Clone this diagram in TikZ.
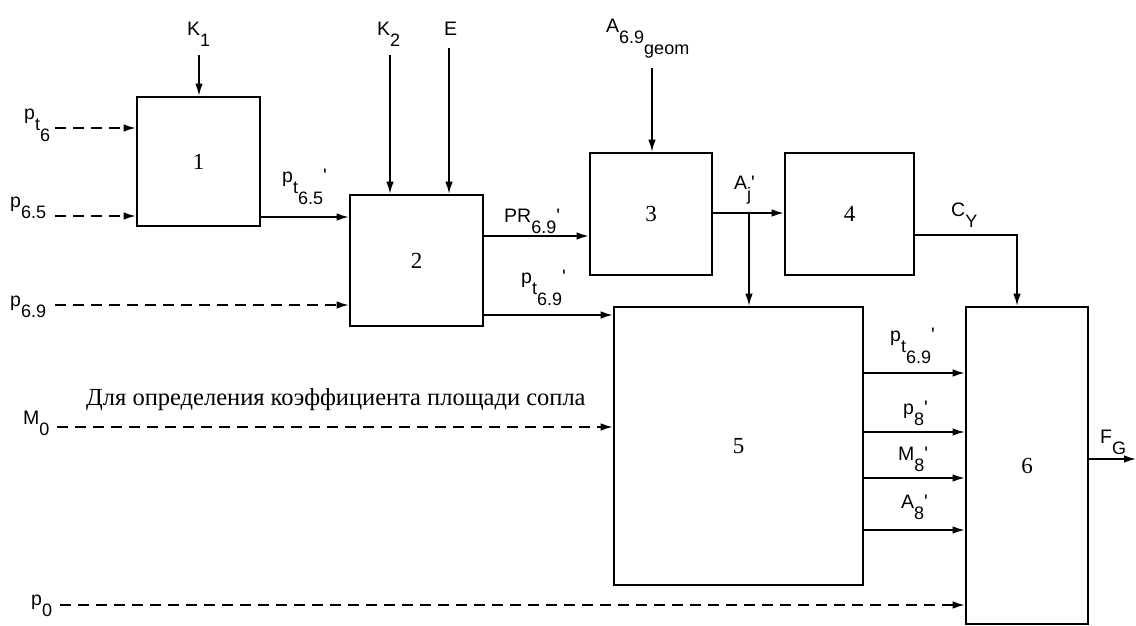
\documentclass[tikz,border=0pt]{standalone}
\usepackage{fontspec}
\setmainfont{Liberation Serif}
\newfontfamily\lab[Ligatures=TeXOff]{Liberation Sans}
\usetikzlibrary{arrows.meta}
\newcommand{\lsub}[1]{\raisebox{-11pt}{\fontsize{18}{18}\selectfont #1}}
\begin{document}
\begin{tikzpicture}[x=1pt,y=-1pt,
  box/.style={draw,line width=2.6pt,inner sep=0pt,font=\fontsize{23}{23}\selectfont},
  arr/.style={line width=1.5pt,-{Latex[length=12pt,width=7.5pt]}},
  darr/.style={arr,dash pattern=on 11pt off 7pt},
  lbl/.style={font=\lab\fontsize{19.5}{19.5}\selectfont,inner sep=0pt,anchor=base west}]
\useasboundingbox[fill=white] (0,0) rectangle (1136,626);

% boxes
\node[box,minimum width=123pt,minimum height=129pt] (b1) at (198.5,161.5) {1};
\node[box,minimum width=133pt,minimum height=131pt] (b2) at (416.5,260.5) {2};
\node[box,minimum width=122pt,minimum height=122pt] (b3) at (651,214) {3};
\node[box,minimum width=129pt,minimum height=122pt] (b4) at (849.5,214) {4};
\node[box,minimum width=249pt,minimum height=278pt] (b5) at (738.5,446) {5};
\node[box,minimum width=122pt,minimum height=317pt] (b6) at (1027,465.5) {6};

% top inputs
\coordinate (k1) at (199,55);
\draw[arr] (k1) -- (k1 |- b1.north);
\node[lbl] (lk1) at (187,36) {K\lsub{1}};
\coordinate (k2) at (390,55);
\draw[arr] (k2) -- (k2 |- b2.north);
\node[lbl] (lk2) at (377,36) {K\lsub{2}};
\coordinate (ee) at (449,48);
\draw[arr] (ee) -- (ee |- b2.north);
\node[lbl] (le) at (444,36) {E};
\coordinate (ag) at (652,68);
\draw[arr] (ag) -- (ag |- b3.north);
\node[lbl] (lag) at (606,33) {A\lsub{6.9\lsub{geom}}};

% dashed inputs from left
\coordinate (s1) at (55,128);
\draw[darr] (s1) -- (s1 -| b1.west);
\node[lbl] (ls1) at (24,119) {p\lsub{t\lsub{6}}};
\coordinate (s2) at (55,216);
\draw[darr] (s2) -- (s2 -| b1.west);
\node[lbl] (ls2) at (10,207) {p\lsub{6.5}};
\coordinate (s3) at (55,305);
\draw[darr] (s3) -- (s3 -| b2.west);
\node[lbl] (ls3) at (10,306) {p\lsub{6.9}};
\coordinate (s4) at (57,427);
\draw[darr] (s4) -- (s4 -| b5.west);
\node[lbl] (ls4) at (23,424) {M\lsub{0}};
\coordinate (s5) at (60,605);
\draw[darr] (s5) -- (s5 -| b6.west);
\node[lbl] (ls5) at (31,605) {p\lsub{0}};

\node[font=\fontsize{24.5}{24.5}\selectfont,inner sep=0pt,anchor=base west] (ru) at (86,405)
  {Для определения коэффициента площади сопла};

% box to box
\coordinate (c12) at (0,217);
\draw[arr] (c12 -| b1.east) -- (c12 -| b2.west);
\node[lbl] (l12) at (282,182) {p\lsub{t\lsub{6.5}}'};
\coordinate (c23) at (0,236);
\draw[arr] (c23 -| b2.east) -- (c23 -| b3.west);
\node[lbl] (l23) at (504,222) {PR\lsub{6.9}'};
\coordinate (c25) at (0,315);
\draw[arr] (c25 -| b2.east) -- (c25 -| b5.west);
\node[lbl] (l25) at (521,283) {p\lsub{t\lsub{6.9}}'};
\coordinate (c34) at (0,213);
\draw[arr] (c34 -| b3.east) -- (c34 -| b4.west);
\node[lbl] (l34) at (734,189) {A\lsub{j}'};
\coordinate (br) at (749,213);
\draw[arr] (br) -- (br |- b5.north);
\coordinate (c46) at (1017,235);
\draw[arr] (c46 -| b4.east) -- (c46) -- (c46 |- b6.north);
\node[lbl] (l46) at (951,216) {C\lsub{Y}};

% 5 -> 6
\coordinate (r1) at (0,373);
\draw[arr] (r1 -| b5.east) -- (r1 -| b6.west);
\node[lbl] (lr1) at (890,341) {p\lsub{t\lsub{6.9}}'};
\coordinate (r2) at (0,432);
\draw[arr] (r2 -| b5.east) -- (r2 -| b6.west);
\node[lbl] (lr2) at (903,414) {p\lsub{8}'};
\coordinate (r3) at (0,478);
\draw[arr] (r3 -| b5.east) -- (r3 -| b6.west);
\node[lbl] (lr3) at (898,460) {M\lsub{8}'};
\coordinate (r4) at (0,530);
\draw[arr] (r4 -| b5.east) -- (r4 -| b6.west);
\node[lbl] (lr4) at (901,508) {A\lsub{8}'};

% output
\coordinate (fg) at (1136,459);
\draw[arr] (fg -| b6.east) -- (fg);
\node[lbl] (lfg) at (1100,443) {F\lsub{G}};
\end{tikzpicture}
\end{document}
